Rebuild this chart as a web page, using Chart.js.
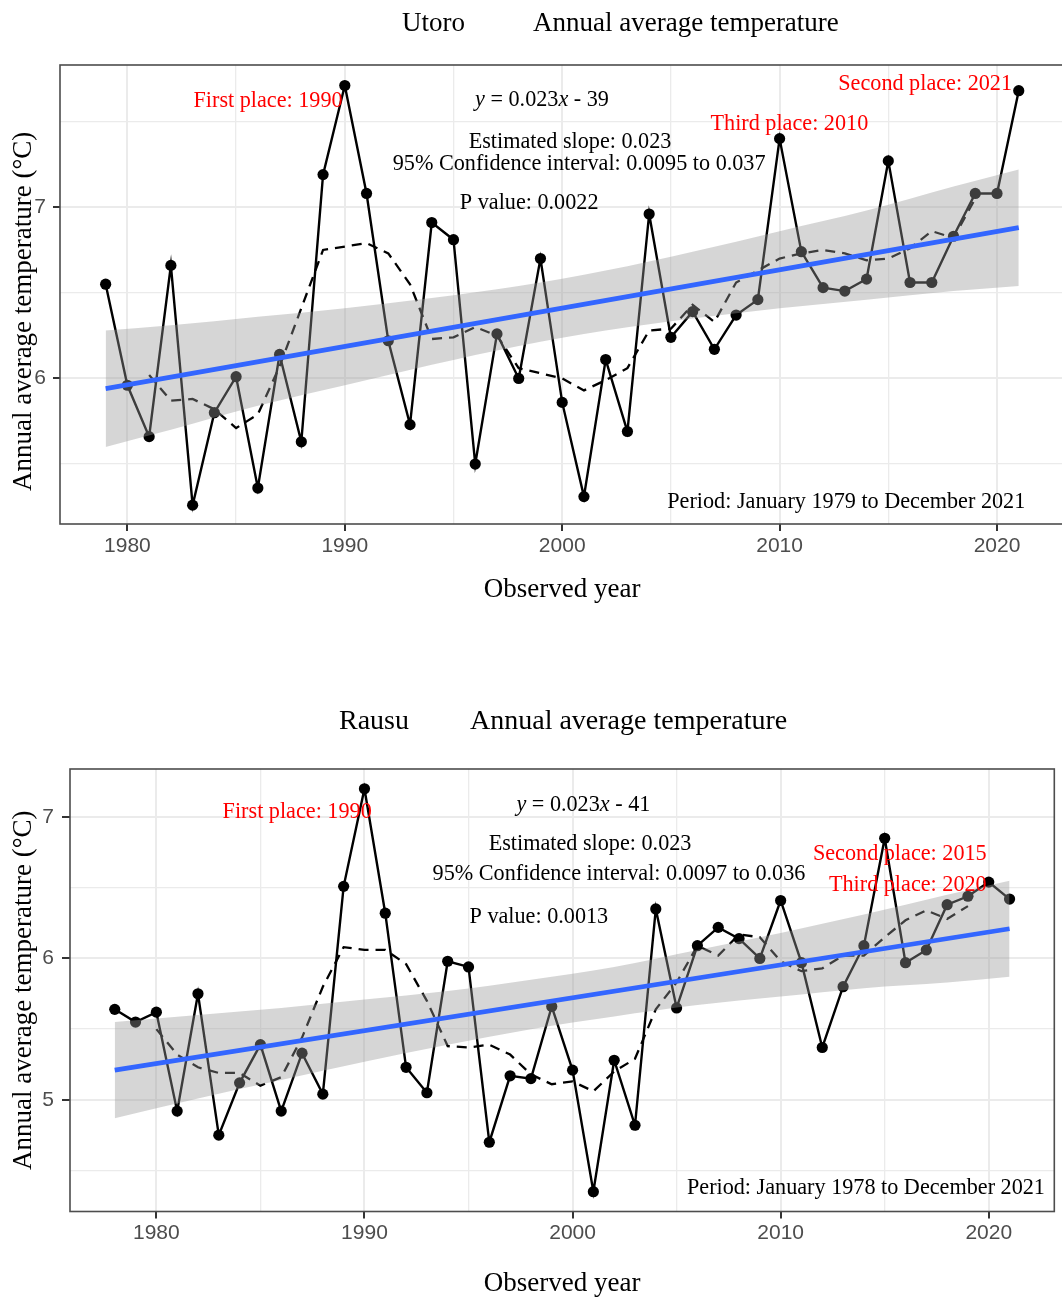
<!DOCTYPE html>
<html>
<head>
<meta charset="utf-8">
<title>Annual average temperature - Utoro / Rausu</title>
<script src="https://cdn.jsdelivr.net/npm/chart.js@4.4.0/dist/chart.umd.min.js"></script>
<style>
  html, body { margin: 0; padding: 0; background: #fff; overflow: hidden; }
  #wrap { position: relative; width: 1062px; height: 1298px; overflow: hidden; }
  canvas { position: absolute; left: 0; }
  #utoroChart { top: 0; }
  #rausuChart { top: 646px; }
</style>
</head>
<body>
<div id="wrap">
  <canvas id="utoroChart" width="1070" height="646"></canvas>
  <canvas id="rausuChart" width="1070" height="660"></canvas>
</div>
<script>
// ---- data ----

// Utoro, 1979-2021
const utoroYears = [1979,1980,1981,1982,1983,1984,1985,1986,1987,1988,1989,1990,1991,1992,1993,1994,1995,1996,1997,1998,1999,2000,2001,2002,2003,2004,2005,2006,2007,2008,2009,2010,2011,2012,2013,2014,2015,2016,2017,2018,2019,2020,2021];
const utoroTemps = [6.55,5.96,5.66,6.66,5.26,5.80,6.01,5.36,6.14,5.63,7.19,7.71,7.08,6.22,5.73,6.91,6.81,5.50,6.26,6.00,6.70,5.86,5.31,6.11,5.69,6.96,6.24,6.39,6.17,6.37,6.46,7.40,6.74,6.53,6.51,6.58,7.27,6.56,6.56,6.83,7.08,7.08,7.68];
// dashed 5-year running mean, 1981-2019
const utoroMaYears = [1981,1982,1983,1984,1985,1986,1987,1988,1989,1990,1991,1992,1993,1994,1995,1996,1997,1998,1999,2000,2001,2002,2003,2004,2005,2006,2007,2008,2009,2010,2011,2012,2013,2014,2015,2016,2017,2018,2019];
const utoroMa = [6.02,5.87,5.88,5.82,5.71,5.79,6.07,6.41,6.75,6.77,6.79,6.73,6.55,6.23,6.24,6.30,6.25,6.06,6.03,6.00,5.93,5.99,6.06,6.28,6.29,6.43,6.33,6.56,6.63,6.70,6.73,6.75,6.73,6.69,6.70,6.76,6.86,6.82,7.05];
// blue fitted line ends
const utoroFitYears = [1979, 2021];
const utoroFit = [5.94, 6.88];
// grey confidence band
const utoroBandYears = [1979,1982,1986,1990,1994,1998,2002,2006,2010,2014,2018,2021];
const utoroBandLow  = [5.60,5.70,5.84,5.96,6.08,6.19,6.28,6.35,6.41,6.46,6.51,6.54];
const utoroBandHigh = [6.28,6.31,6.36,6.41,6.47,6.54,6.63,6.74,6.86,6.98,7.12,7.22];

// Rausu, 1978-2021
const rausuYears = [1978,1979,1980,1981,1982,1983,1984,1985,1986,1987,1988,1989,1990,1991,1992,1993,1994,1995,1996,1997,1998,1999,2000,2001,2002,2003,2004,2005,2006,2007,2008,2009,2010,2011,2012,2013,2014,2015,2016,2017,2018,2019,2020,2021];
const rausuTemps = [5.64,5.55,5.62,4.92,5.75,4.75,5.12,5.39,4.92,5.33,5.04,6.51,7.20,6.32,5.23,5.05,5.98,5.94,4.70,5.17,5.15,5.66,5.21,4.35,5.28,4.82,6.35,5.65,6.09,6.22,6.14,6.00,6.41,5.97,5.37,5.80,6.09,6.85,5.97,6.06,6.38,6.44,6.54,6.42];
// dashed 5-year running mean, 1980-2019
const rausuMaYears = [1980,1981,1982,1983,1984,1985,1986,1987,1988,1989,1990,1991,1992,1993,1994,1995,1996,1997,1998,1999,2000,2001,2002,2003,2004,2005,2006,2007,2008,2009,2010,2011,2012,2013,2014,2015,2016,2017,2018,2019];
const rausuMa = [5.50,5.32,5.23,5.19,5.19,5.10,5.16,5.44,5.80,6.08,6.06,6.06,5.96,5.70,5.38,5.37,5.39,5.32,5.18,5.11,5.13,5.06,5.20,5.29,5.64,5.83,6.09,6.02,6.17,6.15,5.98,5.91,5.93,6.02,6.02,6.15,6.27,6.34,6.28,6.37];
const rausuFitYears = [1978, 2021];
const rausuFit = [5.21, 6.21];
const rausuBandYears = [1978,1982,1986,1990,1994,1998,2002,2006,2010,2014,2018,2021];
const rausuBandLow  = [4.87,5.01,5.14,5.27,5.39,5.50,5.59,5.67,5.73,5.79,5.83,5.87];
const rausuBandHigh = [5.55,5.60,5.65,5.71,5.77,5.85,5.94,6.06,6.18,6.31,6.45,6.55];

// tick positions (labels only on the major ones)
const yearTicks = [1980,1985,1990,1995,2000,2005,2010,2015,2020];
const utoroTempTicks = [5.5,6,6.5,7,7.5];
const rausuTempTicks = [4.5,5,5.5,6,6.5,7];

// ---- styling ----
const SERIF = "'Liberation Serif', 'Times New Roman', serif";
const SANS = "'Liberation Sans', Arial, sans-serif";
const BLUE = '#3366FF';
const BAND = 'rgba(153,153,153,0.4)';
const Y_TITLE = 'Annual average temperature (\u00b0C)';

const pts = (xs, ys) => xs.map((x, i) => ({x: x, y: ys[i]}));

// text notes + panel border + chart title
const notesPlugin = {
  id: 'notes',
  afterDatasetsDraw(chart, args, opts) {
    const {ctx, scales} = chart;
    ctx.save();
    ctx.textBaseline = 'middle';
    (opts.items || []).forEach(n => {
      const px = scales.x.getPixelForValue(n.x);
      const py = scales.y.getPixelForValue(n.y);
      ctx.fillStyle = n.color || '#000';
      const parts = n.parts || [{t: n.text}];
      // measure the pieces (italic ones for math symbols)
      let total = 0;
      parts.forEach(p => {
        ctx.font = (p.i ? 'italic ' : '') + opts.size + 'px ' + SERIF;
        p.w = ctx.measureText(p.t).width;
        total += p.w;
      });
      let start = px - total / 2;
      if (n.align === 'right') start = px - total;
      if (n.align === 'left') start = px;
      ctx.textAlign = 'left';
      parts.forEach(p => {
        ctx.font = (p.i ? 'italic ' : '') + opts.size + 'px ' + SERIF;
        ctx.fillText(p.t, start, py);
        start += p.w;
      });
    });
    ctx.restore();
  },
  afterDraw(chart, args, opts) {
    const {ctx, chartArea: a} = chart;
    ctx.save();
    ctx.strokeStyle = '#4d4d4d';
    ctx.lineWidth = 1.6;
    ctx.strokeRect(a.left, a.top, a.right - a.left, a.bottom - a.top);
    ctx.fillStyle = '#000';
    ctx.textBaseline = 'middle';
    ctx.textAlign = 'left';
    ctx.font = opts.titleSize + 'px ' + SERIF;
    (opts.titles || []).forEach(t => ctx.fillText(t.text, t.left, t.top));
    ctx.restore();
  }
};

function makeChart(id, d) {
  const isMajorX = v => v % 10 === 0;
  const isMajorY = v => Number.isInteger(v);
  return new Chart(document.getElementById(id), {
    type: 'line',
    data: {
      datasets: [
        { label: 'fit', data: pts(d.fitYears, d.fit), borderColor: BLUE, borderWidth: 4.8,
          pointRadius: 0, fill: false, order: 0 },
        { label: 'band low', data: pts(d.bandYears, d.bandLow), borderColor: 'rgba(0,0,0,0)', borderWidth: 0,
          pointRadius: 0, fill: false, cubicInterpolationMode: 'monotone', order: 2 },
        { label: 'band high', data: pts(d.bandYears, d.bandHigh), borderColor: 'rgba(0,0,0,0)', borderWidth: 0,
          pointRadius: 0, fill: {target: 1}, backgroundColor: BAND, cubicInterpolationMode: 'monotone', order: 1 },
        { label: '5-year mean', data: pts(d.maYears, d.ma), borderColor: '#000', borderWidth: 2.3,
          borderDash: [10, 7], pointRadius: 0, fill: false, order: 3 },
        { label: 'annual', data: pts(d.years, d.temps), borderColor: '#000', borderWidth: 2.4,
          pointRadius: 5.6, pointBackgroundColor: '#000', pointBorderWidth: 0, fill: false, order: 4 }
      ]
    },
    options: {
      responsive: false,
      animation: false,
      events: [],
      layout: { padding: d.padding },
      plugins: {
        legend: { display: false },
        tooltip: { enabled: false },
        notes: { items: d.notes, size: 22.2, titles: d.titles, titleSize: d.titleSize }
      },
      scales: {
        x: {
          type: 'linear', min: d.xMin, max: d.xMax,
          afterBuildTicks: s => { s.ticks = yearTicks.map(v => ({value: v})); },
          afterFit: s => { s.height = d.xHeight; },
          ticks: { autoSkip: false, maxRotation: 0, padding: d.xPad, color: '#4d4d4d',
                   font: {family: SANS, size: 21},
                   callback: v => isMajorX(v) ? String(v) : '' },
          grid: { color: '#ebebeb', lineWidth: c => isMajorX(c.tick.value) ? 2 : 1.3,
                  tickColor: c => isMajorX(c.tick.value) ? '#333333' : 'rgba(0,0,0,0)',
                  tickLength: 7, tickWidth: 2 },
          border: { display: false },
          title: { display: true, text: 'Observed year', color: '#000',
                   font: {family: SERIF, size: 27}, padding: {top: 0, bottom: 0} }
        },
        y: {
          min: d.yMin, max: d.yMax,
          afterBuildTicks: s => { s.ticks = d.yTicks.map(v => ({value: v})); },
          afterFit: s => { s.width = d.yWidth; },
          ticks: { autoSkip: false, padding: d.yPad, color: '#4d4d4d',
                   font: {family: SANS, size: 21},
                   callback: v => isMajorY(v) ? String(v) : '' },
          grid: { color: '#ebebeb', lineWidth: c => isMajorY(c.tick.value) ? 2 : 1.3,
                  tickColor: c => isMajorY(c.tick.value) ? '#333333' : 'rgba(0,0,0,0)',
                  tickLength: d.yTickLen, tickWidth: 2 },
          border: { display: false },
          title: { display: true, text: d.yTitle, color: '#000',
                   font: {family: SERIF, size: 27}, padding: {top: 7.8, bottom: 0} }
        }
      }
    },
    plugins: [notesPlugin]
  });
}

makeChart('utoroChart', {
  years: utoroYears, temps: utoroTemps, maYears: utoroMaYears, ma: utoroMa,
  fitYears: utoroFitYears, fit: utoroFit,
  bandYears: utoroBandYears, bandLow: utoroBandLow, bandHigh: utoroBandHigh,
  xMin: 1976.9, xMax: 2023.1, yMin: 5.15, yMax: 7.83, yTicks: utoroTempTicks,
  padding: {left: 0, top: 65, right: 1.3, bottom: 39.8},
  xHeight: 82.2, xPad: 3, yWidth: 60, yPad: 7, yTickLen: 7,
  // trailing spaces nudge the rotated title a little lower, as in the picture
  yTitle: Y_TITLE + '\u00a0\u00a0\u00a0\u00a0\u00a0',
  titleSize: 27,
  titles: [{text: 'Utoro', left: 402, top: 24}, {text: 'Annual average temperature', left: 533, top: 24}],
  notes: [
    {text: 'First place: 1990', x: 1989.9, y: 7.62, align: 'right', color: '#FF0000'},
    {text: 'Second place: 2021', x: 2020.69, y: 7.72, align: 'right', color: '#FF0000'},
    {text: 'Third place: 2010', x: 2010.45, y: 7.486, color: '#FF0000'},
    {parts: [{t: 'y', i: true}, {t: ' = 0.023'}, {t: 'x', i: true}, {t: ' - 39'}], x: 1999.07, y: 7.625},
    {text: 'Estimated slope: 0.023', x: 2000.36, y: 7.379},
    {text: '95% Confidence interval: 0.0095 to 0.037', x: 2000.78, y: 7.249},
    {text: 'P value: 0.0022', x: 1998.48, y: 7.023},
    {text: 'Period: January 1979 to December 2021', x: 2021.3, y: 5.277, align: 'right'}
  ]
});

makeChart('rausuChart', {
  years: rausuYears, temps: rausuTemps, maYears: rausuMaYears, ma: rausuMa,
  fitYears: rausuFitYears, fit: rausuFit,
  bandYears: rausuBandYears, bandLow: rausuBandLow, bandHigh: rausuBandHigh,
  xMin: 1975.85, xMax: 2023.15, yMin: 4.21, yMax: 7.34, yTicks: rausuTempTicks,
  padding: {left: 0, top: 123, right: 15.7, bottom: 5.8},
  xHeight: 88.7, xPad: 1.9, yWidth: 70, yPad: 8, yTickLen: 8,
  yTitle: Y_TITLE,
  titleSize: 28,
  titles: [{text: 'Rausu', left: 339, top: 76}, {text: 'Annual average temperature', left: 470, top: 76}],
  notes: [
    {text: 'First place: 1990', x: 1990.35, y: 7.037, align: 'right', color: '#FF0000'},
    {parts: [{t: 'y', i: true}, {t: ' = 0.023'}, {t: 'x', i: true}, {t: ' - 41'}], x: 2000.52, y: 7.085},
    {text: 'Estimated slope: 0.023', x: 2000.84, y: 6.81},
    {text: '95% Confidence interval: 0.0097 to 0.036', x: 2002.23, y: 6.594},
    {text: 'P value: 0.0013', x: 1998.38, y: 6.293},
    {text: 'Second place: 2015', x: 2019.9, y: 6.739, align: 'right', color: '#FF0000'},
    {text: 'Third place: 2020', x: 2019.9, y: 6.521, align: 'right', color: '#FF0000'},
    {text: 'Period: January 1978 to December 2021', x: 2022.7, y: 4.373, align: 'right'}
  ]
});
</script>
</body>
</html>
